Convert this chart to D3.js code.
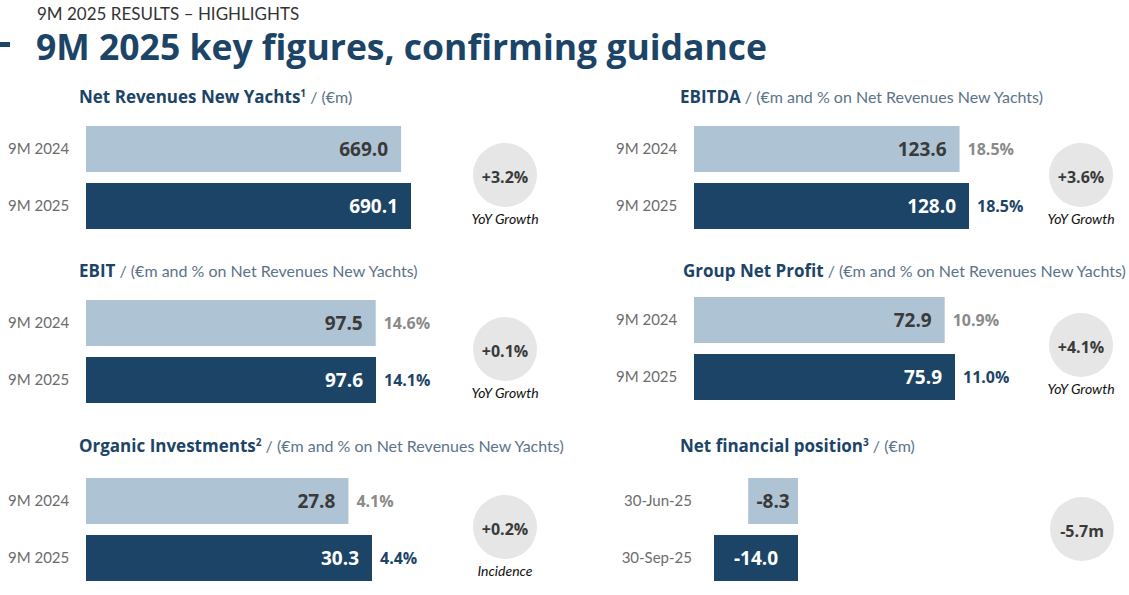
<!DOCTYPE html>
<html>
<head>
<meta charset="utf-8">
<script src="https://cdn.jsdelivr.net/npm/d3@7"></script>
<style>
  body { margin: 0; background: #fff; }
  text { font-family: Lato, "Open Sans", sans-serif; }
  .heavy { font-family: "Open Sans", Lato, sans-serif; font-weight: bold; }
</style>
</head>
<body>
<script>
// values
var categories = ['9M 2024', '9M 2025'];
var nfpCategories = ['30-Jun-25', '30-Sep-25'];

var revenues = [669.0, 690.1];
var ebitda = [123.6, 128.0];
var ebitdaPct = [18.5, 18.5];
var ebit = [97.5, 97.6];
var ebitPct = [14.6, 14.1];
var netProfit = [72.9, 75.9];
var netProfitPct = [10.9, 11.0];
var investments = [27.8, 30.3];
var investmentsPct = [4.1, 4.4];
var nfp = [-8.3, -14.0];

var deltas = ['+3.2%', '+3.6%', '+0.1%', '+4.1%', '+0.2%', '-5.7m'];
var deltaCaptions = ['YoY Growth', 'YoY Growth', 'YoY Growth', 'YoY Growth', 'Incidence', ''];

var NAVY = '#1c4467', LIGHT = '#aec3d4', GREY = '#6c6c6c', SUB = '#5c7389';

var svg = d3.select('body').append('svg')
  .attr('width', 1129)
  .attr('height', 595);

// header
svg.append('rect').attr('x', 0).attr('y', 42).attr('width', 10).attr('height', 5).attr('fill', NAVY);
svg.append('text')
  .attr('x', 37).attr('y', 20)
  .attr('font-size', 17).attr('fill', '#333')
  .text('9M 2025 RESULTS \u2013 HIGHLIGHTS');
svg.append('text')
  .attr('class', 'heavy')
  .attr('x', 36).attr('y', 60)
  .attr('font-size', 35.5).attr('fill', NAVY)
  .text('9M 2025 key figures, confirming guidance');

var panels = [
  { name: 'Net Revenues New Yachts', sup: '1', unit: ' / (\u20acm)', tx: 79, ty: 103,
    labels: categories, values: revenues, pct: null, x0: 86, w: 325, y0: 126,
    labelX: 8, cx: 505, cy: 175 },
  { name: 'EBITDA', sup: '', unit: ' / (\u20acm and % on Net Revenues New Yachts)', tx: 680, ty: 103,
    labels: categories, values: ebitda, pct: ebitdaPct, x0: 694, w: 275, y0: 126,
    labelX: 616, cx: 1081, cy: 175 },
  { name: 'EBIT', sup: '', unit: ' / (\u20acm and % on Net Revenues New Yachts)', tx: 79, ty: 277,
    labels: categories, values: ebit, pct: ebitPct, x0: 86, w: 290, y0: 300,
    labelX: 8, cx: 505, cy: 349 },
  { name: 'Group Net Profit', sup: '', unit: ' / (\u20acm and % on Net Revenues New Yachts)', tx: 683, ty: 277,
    labels: categories, values: netProfit, pct: netProfitPct, x0: 694, w: 261, y0: 297,
    labelX: 616, cx: 1081, cy: 345 },
  { name: 'Organic Investments', sup: '2', unit: ' / (\u20acm and % on Net Revenues New Yachts)', tx: 79, ty: 452,
    labels: categories, values: investments, pct: investmentsPct, x0: 86, w: 286, y0: 478,
    labelX: 8, cx: 505, cy: 527 },
  { name: 'Net financial position', sup: '3', unit: ' / (\u20acm)', tx: 680, ty: 452,
    labels: nfpCategories, values: nfp, pct: null, x0: 798, w: 84, y0: 478,
    labelX: 692, cx: 1082, cy: 529, negative: true }
];

panels.forEach(function(p, i) {
  var g = svg.append('g');

  var t = g.append('text').attr('x', p.tx).attr('y', p.ty).attr('font-size', 16);
  t.append('tspan').attr('class', 'heavy').attr('font-size', 17).attr('fill', NAVY).text(p.name);
  if (p.sup) {
    t.append('tspan').attr('class', 'heavy').attr('fill', NAVY)
      .attr('font-size', 10).attr('dy', -6).text(p.sup);
    t.append('tspan').attr('dy', 6).attr('fill', SUB).text(p.unit);
  } else {
    t.append('tspan').attr('fill', SUB).text(p.unit);
  }

  var y = d3.scaleBand()
    .domain(p.labels)
    .range([p.y0, p.y0 + 103])
    .paddingInner(11 / 57);

  var maxAbs = d3.max(p.values, function(d) { return Math.abs(d); });
  var x;
  if (p.negative) {
    x = d3.scaleLinear().domain([-maxAbs, 0]).range([p.x0 - p.w, p.x0]);
  } else {
    x = d3.scaleLinear().domain([0, maxAbs]).range([p.x0, p.x0 + p.w]);
  }

  var rows = p.labels.map(function(l, j) {
    return { label: l, value: p.values[j], pct: p.pct ? p.pct[j] : null, j: j };
  });

  g.selectAll('rect.bar').data(rows).enter().append('rect')
    .attr('class', 'bar')
    .attr('x', function(d) { return Math.min(x(0), x(d.value)); })
    .attr('y', function(d) { return y(d.label); })
    .attr('width', function(d) { return Math.abs(x(d.value) - x(0)); })
    .attr('height', y.bandwidth())
    .attr('fill', function(d) { return d.j === 0 ? LIGHT : NAVY; });

  // category labels
  g.selectAll('text.cat').data(rows).enter().append('text')
    .attr('class', 'cat')
    .attr('x', p.labelX)
    .attr('y', function(d) { return y(d.label) + y.bandwidth() / 2; })
    .attr('dy', '0.35em')
    .attr('text-anchor', p.negative ? 'end' : 'start')
    .attr('font-size', 15)
    .attr('fill', GREY)
    .text(function(d) { return d.label; });

  // values inside bars
  g.selectAll('text.val').data(rows).enter().append('text')
    .attr('class', 'val heavy')
    .attr('x', function(d) {
      if (p.negative) return (x(d.value) + x(0)) / 2;
      return x(d.value) - 13;
    })
    .attr('y', function(d) { return y(d.label) + y.bandwidth() / 2; })
    .attr('dy', '0.36em')
    .attr('text-anchor', p.negative ? 'middle' : 'end')
    .attr('font-size', 19)
    .attr('fill', function(d) { return d.j === 0 ? '#3a3a3a' : '#fff'; })
    .text(function(d) { return d.value.toFixed(1); });

  // % labels next to bars
  if (p.pct) {
    g.selectAll('text.pct').data(rows).enter().append('text')
      .attr('class', 'pct heavy')
      .attr('x', function(d) { return x(d.value) + 8; })
      .attr('y', function(d) { return y(d.label) + y.bandwidth() / 2; })
      .attr('dy', '0.36em')
      .attr('font-size', 16)
      .attr('fill', function(d) { return d.j === 0 ? '#8a8a8a' : NAVY; })
      .text(function(d) { return d.pct.toFixed(1) + '%'; });
  }

  // delta bubble
  g.append('circle')
    .attr('cx', p.cx).attr('cy', p.cy)
    .attr('r', 32)
    .attr('fill', '#e6e6e6');
  g.append('text')
    .attr('class', 'heavy')
    .attr('x', p.cx).attr('y', p.cy + 2)
    .attr('dy', '0.36em')
    .attr('text-anchor', 'middle')
    .attr('font-size', 16).attr('fill', '#3a3a3a')
    .text(deltas[i]);
  if (deltaCaptions[i]) {
    g.append('text')
      .attr('x', p.cx).attr('y', p.cy + 49)
      .attr('text-anchor', 'middle')
      .attr('font-size', 14).attr('font-style', 'italic').attr('fill', '#111')
      .text(deltaCaptions[i]);
  }
});
</script>
</body>
</html>
